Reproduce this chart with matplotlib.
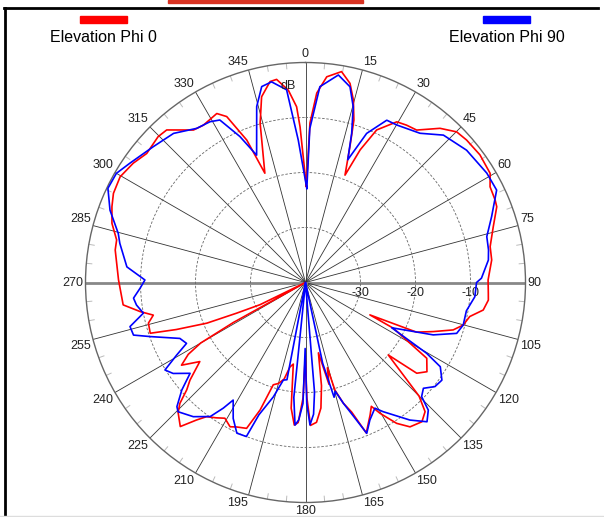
import numpy as np
import matplotlib.pyplot as plt
from matplotlib.patches import Rectangle
from matplotlib.lines import Line2D

plt.rcParams['font.family'] = ['Liberation Sans', 'DejaVu Sans']

# radiation pattern (angle in deg, gain in dB)
phi0_ang = [0.5, 1.6, 3.4, 5.9, 9.7, 12.6, 14.7, 16.6, 18.1, 20.2, 22.4, 25.0, 29.6, 32.7,
            36.1, 41.1, 45.1, 48.5, 53.8, 59.4, 62.6, 66.5, 68.4, 73.5, 79.0, 83.1, 89.2,
            93.4, 95.5, 98.8, 101.7, 105.1, 107.8, 111.0, 114.1, 116.7, 117.5, 122.0, 126.3,
            129.2, 131.2, 133.5, 135.0, 137.2, 140.1, 144.1, 147.1, 150.3, 152.0, 154.0,
            158.0, 160.4, 162.6, 164.7, 165.6, 167.0, 169.6, 171.2, 173.0, 175.5, 178.0,
            179.3, 180.2, 181.2, 183.0, 184.5, 186.5, 188.5, 190.4, 192.5, 195.0, 197.5,
            199.6, 202.0, 205.5, 207.6, 210.7, 213.5, 216.4, 218.4, 221.0, 224.4, 226.1,
            227.9, 229.8, 233.2, 236.3, 238.5, 240.0, 241.0, 242.0, 244.0, 246.0, 247.6,
            250.0, 251.9, 255.5, 257.9, 260.0, 263.0, 270.8, 279.7, 282.7, 287.0, 291.4,
            294.9, 299.7, 304.7, 309.1, 314.7, 317.7, 323.7, 327.0, 332.3, 334.6, 337.6,
            339.6, 344.1, 346.7, 350.0, 351.9, 354.9, 357.1, 358.0, 360.5]
phi0_db = [-22.5, -11.0, -5.5, -2.4, -1.1, -2.9, -5.7, -9.2, -14.0, -19.2, -13.9, -9.4, -6.4, -6.0,
           -5.7, -2.8, -1.2, -0.9, -0.7, -1.0, -2.2, -2.4, -2.6, -4.4, -5.8, -5.9, -6.8,
           -6.7, -6.6, -7.3, -9.5, -10.3, -11.8, -15.1, -17.9, -26.9, -22.0, -14.0, -12.6,
           -13.9, -20.0, -15.3, -10.8, -8.0, -7.0, -7.6, -9.5, -12.6, -14.5, -13.2,
           -10.5, -15.0, -17.0, -19.7, -24.0, -21.0, -27.0, -21.0, -17.0, -14.5, -14.0,
           -19.0, -26.5, -19.0, -14.5, -14.0, -17.0, -25.0, -24.4, -22.0, -21.0, -20.5,
           -15.4, -11.4, -10.9, -10.4, -11.3, -10.5, -9.7, -8.1, -5.3, -6.9, -8.3,
           -10.9, -12.5, -16.0, -12.9, -15.0, -18.0, -25.0, -40.0, -30.8, -26.3, -20.6,
           -15.0, -10.3, -10.5, -11.7, -9.5, -6.6, -6.0, -4.9, -4.8, -3.2, -2.2,
           -1.5, -1.2, -1.9, -2.8, -2.3, -2.5, -5.6, -5.9, -5.3, -6.6, -12.0,
           -18.8, -9.9, -5.3, -2.9, -2.7, -4.9, -8.0, -11.7, -22.5]

phi90_ang = [0.8, 1.6, 4.2, 9.0, 12.8, 15.2, 17.2, 19.0, 22.3, 26.6, 30.1, 37.5, 43.1, 50.6,
             58.9, 64.2, 70.5, 75.8, 79.9, 83.0, 88.6, 90.0, 94.8, 100.0, 105.1, 108.6,
             112.3, 117.7, 120.3, 122.0, 125.6, 128.8, 131.9, 134.5, 136.1, 138.9, 142.8,
             149.0, 151.1, 154.9, 157.9, 160.5, 162.6, 164.7, 166.0, 168.0, 173.5, 175.3,
             176.5, 178.2, 179.4, 180.3, 181.2, 182.8, 184.2, 185.8, 188.0, 190.8, 192.8,
             195.7, 199.4, 201.0, 204.5, 208.0, 211.6, 213.2, 215.4, 219.9, 224.6, 226.0,
             229.0, 231.8, 235.5, 238.1, 240.6, 242.9, 246.0, 250.8, 253.0, 255.9, 259.3,
             262.4, 264.8, 268.0, 270.9, 275.0, 281.9, 284.7, 290.3, 295.5, 300.0, 304.2,
             311.7, 318.5, 324.8, 329.3, 332.2, 335.8, 339.0, 344.5, 347.4, 350.4, 354.4,
             357.1, 360.8]
phi90_db = [-22.9, -12.0, -4.3, -1.8, -3.5, -6.9, -11.6, -16.4, -10.7, -7.0, -6.9, -5.8, -3.3, -2.1,
            -1.5, -1.4, -4.1, -6.0, -6.2, -6.5, -8.0, -8.9, -9.1, -10.3, -10.3, -11.0,
            -14.9, -22.3, -14.5, -11.1, -9.5, -9.8, -11.2, -10.4, -7.8, -6.4, -8.6,
            -12.6, -13.9, -12.4, -10.4, -14.5, -17.0, -19.5, -18.5, -25.0, -40.0, -20.0,
            -16.0, -14.1, -18.0, -28.0, -18.0, -15.0, -14.0, -19.0, -40.0, -22.0, -21.8,
            -18.4, -14.5, -10.0, -9.9, -12.0, -14.9, -12.7, -10.1, -8.2, -7.0, -7.5,
            -10.2, -13.3, -10.8, -9.9, -13.1, -15.7, -15.0, -10.1, -7.3, -7.1, -10.0,
            -9.0, -8.6, -9.9, -10.8, -7.4, -5.5, -4.8, -2.1, -0.2, -0.3, -1.4,
            -2.9, -3.8, -5.7, -6.0, -6.6, -10.9, -15.2, -6.8, -3.5, -3.0, -4.8,
            -14.1, -22.9]

ring_levels = [-30, -20, -10]
angle_ticks = list(range(0, 360, 15))
series_names = ['Elevation Phi 0', 'Elevation Phi 90']

W, H = 604, 517
fig = plt.figure(figsize=(W / 100, H / 100), dpi=100)

cx, cy, R = 305.5, 282.5, 220.0
ax = fig.add_axes([(cx - R) / W, 1 - (cy + R) / H, 2 * R / W, 2 * R / H], projection='polar')
ax.set_theta_zero_location('N')
ax.set_theta_direction(-1)
ax.set_ylim(-40, 0)
ax.grid(False)
ax.set_xticks([])
ax.set_yticks([])
ax.spines['polar'].set_color('#666666')
ax.spines['polar'].set_linewidth(1.0)

# spokes
for a in angle_ticks:
    t = np.radians(a)
    if a % 180 == 90:
        ax.plot([t, t], [-40, 0], color='#888888', lw=2.0, zorder=1)
    else:
        ax.plot([t, t], [-40, 0], color='#333333', lw=0.6, zorder=1)
# small ticks on the outer ring
for a in range(0, 360, 5):
    if a % 15:
        t = np.radians(a)
        ax.plot([t, t], [-1.0, 0], color='#bbbbbb', lw=0.7, zorder=1)
# dB rings
th = np.linspace(0, 2 * np.pi, 361)
for lv in ring_levels:
    ax.plot(th, np.full_like(th, lv), color='#666666', lw=0.6, ls=(0, (3, 2)), zorder=1)
    ax.annotate(str(lv), xy=(np.pi / 2, lv), xytext=(0, -3), textcoords='offset points',
                ha='center', va='top', fontsize=9, color='#222222')

# angle labels
for a in angle_ticks:
    t = np.radians(a)
    ha = 'center' if a % 180 == 0 else ('left' if a < 180 else 'right')
    va = 'center' if a % 180 == 90 else ('bottom' if (a < 90 or a > 270) else 'top')
    ax.annotate(str(a), xy=(t, 0), xytext=(1.5 * np.sin(t), 1.5 * np.cos(t)),
                textcoords='offset points', ha=ha, va=va, fontsize=9, color='#222222',
                annotation_clip=False)

ax.plot(np.radians(phi0_ang), phi0_db, color='#ff0000', lw=1.2, zorder=3,
        solid_joinstyle='round')
ax.plot(np.radians(phi90_ang), phi90_db, color='#0000ff', lw=1.2, zorder=3,
        solid_joinstyle='round')

fig.text(288 / W, 1 - 86 / H, 'dB', ha='center', va='center', fontsize=9, color='#222222')

# legend
for xc, col, name in [(103.5, '#ff0000', series_names[0]), (506.5, '#0000ff', series_names[1])]:
    fig.patches.append(Rectangle(((xc - 23.5) / W, 1 - 23 / H), 47 / W, 7 / H,
                                 transform=fig.transFigure, color=col))
    fig.text(xc / W, 1 - 38 / H, name, ha='center', va='center', fontsize=11.5)

# frame bits
fig.lines.append(Line2D([4.5 / W, 4.5 / W], [0, 1 - 8 / H], transform=fig.transFigure,
                        color='black', lw=2))
fig.lines.append(Line2D([4 / W, 598 / W], [1 - 8 / H, 1 - 8 / H], transform=fig.transFigure,
                        color='black', lw=2))
fig.patches.append(Rectangle((168 / W, 1 - 3 / H), 195 / W, 3 / H, transform=fig.transFigure,
                             color='#d83222'))
fig.lines.append(Line2D([0, 1], [1.5 / H, 1.5 / H], transform=fig.transFigure,
                        color='#dddddd', lw=1))

fig.savefig('out.png', dpi=100)
